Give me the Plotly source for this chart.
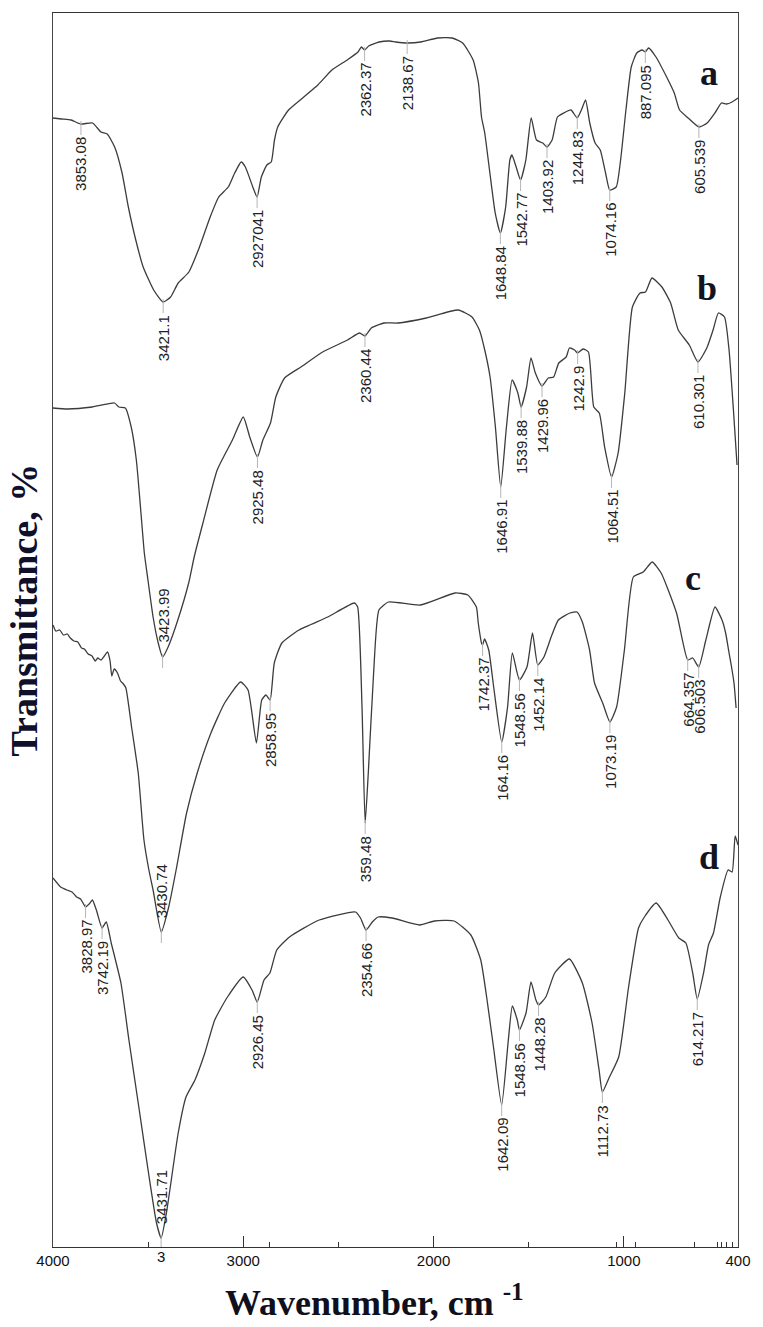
import numpy as np
import plotly.graph_objects as go

# ---- FTIR spectra (wavenumber in cm-1, transmittance in % per spectrum) ----
wn_a = [4000, 3955, 3905, 3855, 3792, 3748, 3715, 3676, 3637, 3604, 3565, 3526, 3471, 3421.1, 3382,
        3342, 3286, 3230, 3174, 3129, 3079, 3045, 3011, 2989, 2950, 2927.41, 2905, 2876, 2853, 2836,
        2819, 2762, 2682, 2608, 2534, 2454, 2397, 2379, 2362.37, 2341, 2286, 2231, 2198, 2138.67, 2067,
        1979, 1902, 1847, 1792, 1764, 1748, 1731, 1704, 1676, 1648.84, 1621, 1599, 1588, 1566, 1542.77,
        1515, 1487, 1459, 1426, 1403.92, 1377, 1349, 1316, 1278, 1244.83, 1223, 1201, 1179, 1151, 1124,
        1096, 1074.16, 1040, 1017, 989, 961, 932, 904, 887.095, 870, 831, 775, 735, 707, 662,
        605.539, 562, 518, 487, 461, 431, 400]
t_a = [32.9, 32.8, 32.7, 32.3, 32.4, 31.5, 31.3, 30.0, 27.4, 24.0, 20.7, 18.0, 15.7, 14.5, 15.0,
       16.4, 17.5, 20.0, 23.0, 25.0, 26.0, 27.4, 28.5, 28.0, 26.0, 25.0, 27.0, 28.2, 28.5, 30.7,
       32.0, 33.7, 35.0, 36.2, 37.7, 38.7, 39.5, 40.0, 39.7, 40.1, 40.5, 40.6, 40.5, 40.4, 40.5,
       40.9, 40.9, 40.4, 38.7, 36.4, 33.0, 31.4, 27.4, 23.4, 21.4, 24.0, 28.7, 29.2, 28.0, 26.7,
       28.7, 32.9, 30.7, 30.4, 30.0, 30.7, 33.0, 33.4, 33.7, 32.9, 33.7, 34.7, 32.4, 30.4, 29.7,
       27.4, 25.7, 26.0, 28.7, 33.7, 38.0, 39.4, 39.7, 39.5, 39.9, 39.0, 37.0, 35.4, 33.7, 32.9,
       32.0, 32.4, 33.5, 34.4, 34.3, 34.5, 34.9]

wn_b = [4000, 3923, 3793, 3677, 3654, 3620, 3589, 3562, 3539, 3520, 3501, 3474, 3447, 3423.99, 3395,
        3344, 3287, 3258, 3212, 3137, 3057, 3000, 2966, 2925.48, 2897, 2857, 2829, 2783, 2697, 2583,
        2452, 2389, 2360.44, 2327, 2260, 2188, 2038, 1871, 1798, 1759, 1731, 1703, 1675, 1646.91, 1617,
        1587, 1557, 1539.88, 1511, 1488, 1465, 1429.96, 1397, 1369, 1342, 1303, 1286, 1259, 1242.9, 1214,
        1186, 1158, 1129, 1101, 1064.51, 1030, 995, 955, 915, 886, 852, 800, 754, 714, 656,
        610.301, 564, 531, 503, 471, 447, 424, 405]
t_b = [28.9, 28.8, 29.0, 29.4, 29.0, 28.9, 27.0, 23.7, 18.7, 14.4, 11.7, 8.0, 5.4, 4.0, 5.0,
       7.7, 11.4, 14.0, 17.4, 22.7, 25.7, 28.0, 26.0, 24.0, 25.7, 27.4, 30.0, 31.9, 33.0, 34.5,
       35.7, 36.4, 36.1, 36.9, 37.4, 37.4, 37.9, 38.7, 38.0, 36.7, 34.7, 32.0, 27.0, 21.0, 27.0,
       31.7, 30.4, 29.0, 31.0, 33.9, 32.4, 31.1, 31.9, 32.0, 33.4, 34.0, 34.9, 34.7, 34.4, 34.8,
       34.5, 29.0, 28.4, 25.0, 22.0, 24.4, 30.4, 39.0, 40.4, 40.5, 41.9, 41.0, 39.4, 36.7, 35.2,
       33.5, 34.9, 36.7, 38.4, 38.0, 34.7, 28.7, 23.2]

wn_c = [4000, 3985, 3965, 3945, 3925, 3909, 3890, 3870, 3850, 3835, 3815, 3795, 3778, 3765, 3748,
        3730, 3713, 3700, 3691, 3678, 3661, 3645, 3630, 3617, 3587, 3552, 3522, 3496, 3474, 3430.74,
        3392, 3353, 3298, 3242, 3170, 3098, 3014, 2975, 2931, 2903, 2881, 2858.95, 2837, 2797, 2707,
        2556, 2416, 2399, 2376, 2359.48, 2343, 2315, 2287, 2237, 2070, 1887, 1820, 1775, 1765, 1748,
        1742.37, 1732, 1710, 1684, 1641.6, 1611, 1586, 1548.56, 1509, 1480, 1452.14, 1420, 1382, 1344, 1283,
        1246, 1218, 1180, 1154, 1111, 1073.19, 1038, 997, 950, 898, 851, 804, 723, 664.357, 638,
        606.503, 569, 521, 484, 465, 447, 434, 421, 410]
t_c = [32.2, 31.6, 31.7, 31.2, 31.3, 30.9, 30.6, 30.5, 29.9, 29.8, 29.3, 29.1, 28.6, 28.9, 28.7,
       29.1, 29.5, 28.6, 27.1, 27.8, 27.4, 26.6, 26.3, 25.9, 22.0, 17.4, 10.7, 7.7, 5.7, 1.5,
       4.0, 7.7, 13.4, 17.4, 21.4, 24.4, 26.5, 25.7, 20.4, 24.7, 25.2, 24.7, 28.4, 30.4, 31.7,
       33.0, 34.4, 34.0, 24.0, 12.4, 17.4, 27.4, 33.7, 34.5, 34.2, 35.4, 35.2, 34.0, 32.4, 30.4,
       30.2, 30.8, 29.7, 26.0, 20.5, 24.0, 29.4, 26.7, 28.0, 31.4, 28.2, 29.0, 31.0, 32.7, 33.4,
       33.5, 32.5, 29.7, 26.4, 24.4, 22.5, 24.0, 29.7, 37.0, 37.5, 38.5, 37.4, 33.4, 28.7, 28.9,
       28.0, 30.7, 34.0, 32.7, 31.4, 29.4, 28.0, 26.4, 23.9]

wn_d = [4000, 3960, 3927, 3900, 3876, 3855, 3828.97, 3810, 3793, 3772, 3742.19, 3720, 3694, 3643, 3601,
        3549, 3498, 3456, 3431.71, 3404, 3342, 3301, 3254, 3202, 3150, 3083, 3000, 2954, 2926.45, 2891,
        2860, 2824, 2757, 2601, 2410, 2384, 2354.66, 2322, 2291, 2218, 2073, 1995, 1892, 1804, 1752,
        1721, 1685, 1642.09, 1607, 1586, 1560, 1548.56, 1514, 1488, 1462, 1448.28, 1410, 1363, 1286, 1218,
        1167, 1130, 1112.73, 1078, 1027, 975, 923, 892, 830, 768, 711, 674, 638, 614.217, 581,
        555, 529, 493, 452, 431, 415, 400]
t_d = [36.9, 36.0, 35.7, 35.5, 35.0, 34.8, 34.0, 34.3, 34.7, 33.7, 31.9, 32.5, 30.4, 26.4, 20.7,
       14.0, 7.4, 2.4, 0.9, 3.4, 11.4, 15.0, 16.7, 19.4, 22.7, 25.0, 27.0, 25.7, 24.5, 26.7,
       27.4, 29.7, 31.0, 32.7, 33.5, 32.9, 31.7, 32.5, 33.0, 32.9, 32.2, 32.6, 32.6, 31.2, 28.7,
       25.0, 20.0, 14.2, 20.7, 24.1, 22.7, 21.7, 23.4, 26.5, 24.7, 24.2, 25.0, 27.4, 28.8, 26.4,
       22.4, 17.7, 15.5, 16.9, 19.0, 26.0, 31.9, 33.0, 34.4, 32.7, 30.9, 30.4, 27.4, 24.8, 27.4,
       30.2, 31.4, 35.0, 37.7, 37.5, 41.1, 40.2]

# Vertical stacking offsets of the four spectra
offsets = {"a": 80, "b": 55, "c": 30, "d": 0}

# Marked band positions and their printed labels
peaks_a = [3853.08, 3421.1, 2927.41, 2362.37, 2138.67, 1648.84, 1542.77, 1403.92, 1244.83, 1074.16, 887.095, 605.539]
labels_a = ["3853.08", "3421.1", "2927041", "2362.37", "2138.67", "1648.84", "1542.77", "1403.92",
            "1244.83", "1074.16", "887.095", "605.539"]
peaks_b = [3423.99, 2925.48, 2360.44, 1646.91, 1539.88, 1429.96, 1242.9, 1064.51, 610.301]
labels_b = ["3423.99", "2925.48", "2360.44", "1646.91", "1539.88", "1429.96", "1242.9", "1064.51", "610.301"]
peaks_c = [3430.74, 2858.95, 2359.48, 1742.37, 1641.6, 1548.56, 1452.14, 1073.19, 664.357, 606.503]
labels_c = ["3430.74", "2858.95", "359.48", "1742.37", "164.16", "1548.56", "1452.14", "1073.19",
            "664.357", "606.503"]
peaks_d = [3828.97, 3742.19, 3431.71, 2926.45, 2354.66, 1642.09, 1548.56, 1448.28, 1112.73, 614.217]
labels_d = ["3828.97", "3742.19", "3431.71", "2926.45", "2354.66", "1642.09", "1548.56", "1448.28",
            "1112.73", "614.217"]
# bands whose label sits inside the absorption well, above the minimum
labels_above = {3423.99, 3430.74, 3431.71}

x_ticks = [4000, 3000, 2000, 1000, 400]
x_minor = [3500, 2860, 2500, 1500, 1040, 940, 630, 510, 485, 460, 430]

spectra = [
    ("a", wn_a, t_a, peaks_a, labels_a),
    ("b", wn_b, t_b, peaks_b, labels_b),
    ("c", wn_c, t_c, peaks_c, labels_c),
    ("d", wn_d, t_d, peaks_d, labels_d),
]

LINE = "#3c3c3c"
fig = go.Figure()
annotations = []
tick_x, tick_y = [], []

for name, wn, t, peaks, labels in spectra:
    off = offsets[name]
    y = np.array(t) + off
    fig.add_trace(go.Scatter(x=wn, y=y, mode="lines",
                             line=dict(color=LINE, width=1.3, shape="spline", smoothing=0.5),
                             hoverinfo="skip", showlegend=False))
    xs = np.array(wn)[::-1]
    ys = y[::-1]
    for p, lab in zip(peaks, labels):
        yp = float(np.interp(p, xs, ys))
        tick_x.append(p)
        tick_y.append(yp - 0.4)
        above = p in labels_above
        annotations.append(dict(
            x=p, y=yp, xref="x", yref="y", text=lab, showarrow=False,
            textangle=-90, xanchor="center",
            yanchor="bottom" if above else "top",
            yshift=12 if above else -11,
            font=dict(family="Liberation Sans, Arial, sans-serif", size=15, color="#222222"),
        ))

# short grey marks at each labelled band
fig.add_trace(go.Scatter(x=tick_x, y=tick_y, mode="markers",
                         marker=dict(symbol="line-ns", size=10, line=dict(width=1, color="#b5b5b5")),
                         hoverinfo="skip", showlegend=False))

# spectrum letters
letter_pos = {"a": (0.957, 0.951), "b": (0.955, 0.777), "c": (0.935, 0.542), "d": (0.957, 0.316)}
for name, (px, py) in letter_pos.items():
    annotations.append(dict(x=px, y=py, xref="paper", yref="paper", text=f"<b>{name}</b>",
                            showarrow=False, xanchor="center", yanchor="middle",
                            font=dict(family="Liberation Serif, Times New Roman, serif", size=36,
                                      color="#141420")))

# stray digit printed under the axis at the O-H band of spectrum d
annotations.append(dict(x=3431.71, y=0, xref="x", yref="y", text="3", showarrow=False,
                        xanchor="center", yanchor="middle", yshift=-9,
                        font=dict(family="Liberation Sans, Arial, sans-serif", size=15, color="#111111")))

# axis titles
annotations.append(dict(x=0.47, y=-0.043, xref="paper", yref="paper",
                        text="<b>Wavenumber, cm <sup>-1</sup></b>", showarrow=False,
                        xanchor="center", yanchor="middle",
                        font=dict(family="Liberation Serif, Times New Roman, serif", size=36, color="#10101c")))
annotations.append(dict(x=-0.042, y=0.516, xref="paper", yref="paper",
                        text="<b>Transmittance, %</b>", showarrow=False, textangle=-90,
                        xanchor="center", yanchor="middle",
                        font=dict(family="Liberation Serif, Times New Roman, serif", size=38, color="#10102a")))

fig.update_layout(
    width=763, height=1327,
    margin=dict(l=53, r=15, t=13, b=80),
    paper_bgcolor="white", plot_bgcolor="white",
    annotations=annotations,
    xaxis=dict(range=[4000, 400], tickmode="array", tickvals=x_ticks,
               ticktext=[str(v) for v in x_ticks],
               ticks="inside", ticklen=11, tickwidth=1, tickcolor="#333333",
               showline=True, linecolor="#333333", linewidth=1, mirror=True,
               showgrid=False, zeroline=False,
               tickfont=dict(family="Liberation Sans, Arial, sans-serif", size=15, color="#111111"),
               minor=dict(tickmode="array", tickvals=x_minor, ticks="inside", ticklen=5,
                          tickcolor="#333333", showgrid=False)),
    yaxis=dict(range=[0, 123.4], showline=True, linecolor="#444444", linewidth=1, mirror=True,
               showticklabels=False, ticks="", showgrid=False, zeroline=False),
)

fig.write_html("out.html")
